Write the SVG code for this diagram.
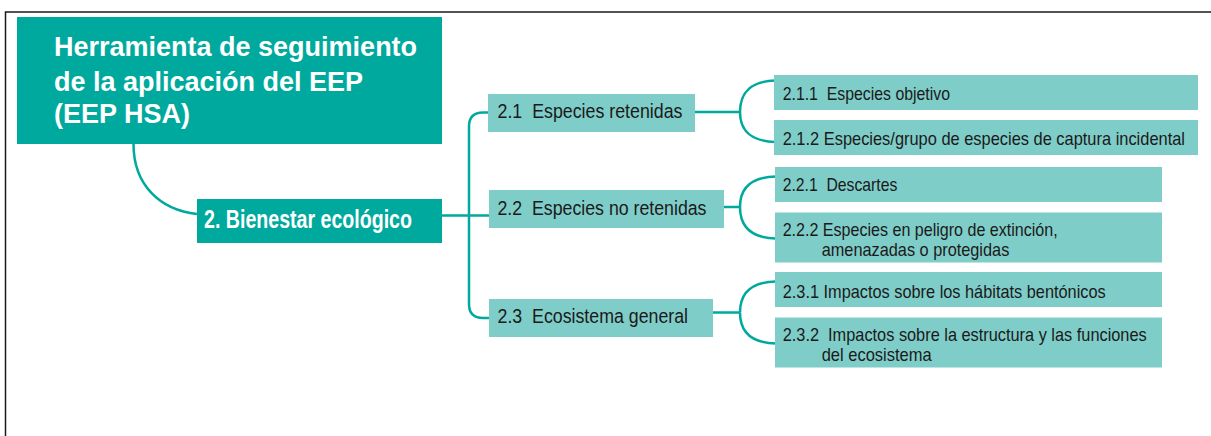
<svg xmlns="http://www.w3.org/2000/svg" width="1211" height="436" viewBox="0 0 1211 436">
<style>
.frame{fill:none;stroke:#1a1a1a;stroke-width:1.5}
.dark{fill:#00A99D}
.light{fill:#7FCDC8}
.con{fill:none;stroke:#00A99D;stroke-width:2.5}
.title{font-family:"Liberation Sans",Arial,sans-serif;font-weight:bold;font-size:27px;fill:#ffffff}
.l1{font-family:"Liberation Sans Narrow","Liberation Sans",Arial,sans-serif;font-weight:bold;font-size:25.5px;fill:#ffffff}
.l2{font-family:"Liberation Sans Narrow","Liberation Sans",Arial,sans-serif;font-size:20.5px;fill:#1a1a1a;white-space:pre}
.l3{font-family:"Liberation Sans Narrow","Liberation Sans",Arial,sans-serif;font-size:18.5px;fill:#1a1a1a;white-space:pre}
</style>
<path class="frame" d="M5.5,436 V12 H1211"/>
<g id="connectors">
<path class="con" d="M133.5,144 C133.5,185 160,210 197,214"/>
<path class="con" d="M442,215.5 H489"/>
<path class="con" d="M488,112.5 H483 Q469,112.5 469,126.5 V304 Q469,318 483,318 H489"/>
<path class="con" d="M695,112 H740"/>
<path class="con" d="M740,112 C740,92 752,81 775,80.5"/>
<path class="con" d="M740,112 C740,132 752,141 775,142"/>
<path class="con" d="M724,207 H740"/>
<path class="con" d="M740,207 C740,187 752,177 776,176.5"/>
<path class="con" d="M740,207 C740,227 752,238 776,238.5"/>
<path class="con" d="M712,312.5 H740"/>
<path class="con" d="M740,312.5 C740,292 752,282 776,281.5"/>
<path class="con" d="M740,312.5 C740,333 752,343 776,343.5"/>
</g>
<g id="root">
<rect class="dark" x="17" y="17" width="425" height="127"/>
<text class="title" x="54" y="56">Herramienta de seguimiento</text>
<text class="title" x="54" y="90.5">de la aplicación del EEP</text>
<text class="title" x="54" y="123">(EEP HSA)</text>
</g>
<g id="n2">
<rect class="dark" x="197" y="199" width="245" height="44"/>
<text class="l1" x="204" y="227.5" textLength="208" lengthAdjust="spacingAndGlyphs">2. Bienestar ecológico</text>
</g>
<g id="n21">
<rect class="light" x="488" y="94" width="207" height="38"/>
<text class="l2" xml:space="preserve" x="497.5" y="118" textLength="185" lengthAdjust="spacingAndGlyphs">2.1  Especies retenidas</text>
</g>
<g id="n22">
<rect class="light" x="489" y="190" width="235" height="38"/>
<text class="l2" xml:space="preserve" x="497.5" y="214.5" textLength="209" lengthAdjust="spacingAndGlyphs">2.2  Especies no retenidas</text>
</g>
<g id="n23">
<rect class="light" x="489" y="299" width="224" height="38"/>
<text class="l2" xml:space="preserve" x="497.5" y="323" textLength="190.5" lengthAdjust="spacingAndGlyphs">2.3  Ecosistema general</text>
</g>
<g id="n211">
<rect class="light" x="774" y="75" width="424" height="35"/>
<text class="l3" xml:space="preserve" x="782.7" y="99.5" textLength="167.3" lengthAdjust="spacingAndGlyphs">2.1.1  Especies objetivo</text>
</g>
<g id="n212">
<rect class="light" x="774" y="120" width="424" height="35"/>
<text class="l3" x="782.7" y="145" textLength="402.3" lengthAdjust="spacingAndGlyphs">2.1.2 Especies/grupo de especies de captura incidental</text>
</g>
<g id="n221">
<rect class="light" x="775" y="167" width="387" height="35"/>
<text class="l3" xml:space="preserve" x="782.7" y="191" textLength="114.6" lengthAdjust="spacingAndGlyphs">2.2.1  Descartes</text>
</g>
<g id="n222">
<rect class="light" x="775" y="212.5" width="387" height="50"/>
<text class="l3"><tspan x="782.7" y="236" textLength="275" lengthAdjust="spacingAndGlyphs">2.2.2 Especies en peligro de extinción,</tspan><tspan x="821.7" y="255.5" textLength="187.6" lengthAdjust="spacingAndGlyphs">amenazadas o protegidas</tspan></text>
</g>
<g id="n231">
<rect class="light" x="775" y="272" width="387" height="35"/>
<text class="l3" x="782.7" y="297.5" textLength="323" lengthAdjust="spacingAndGlyphs">2.3.1 Impactos sobre los hábitats bentónicos</text>
</g>
<g id="n232">
<rect class="light" x="775" y="317.5" width="387" height="50"/>
<text class="l3" xml:space="preserve"><tspan x="782.7" y="340.5" textLength="364" lengthAdjust="spacingAndGlyphs">2.3.2  Impactos sobre la estructura y las funciones</tspan><tspan x="821.7" y="361" textLength="110" lengthAdjust="spacingAndGlyphs">del ecosistema</tspan></text>
</g>
</svg>
